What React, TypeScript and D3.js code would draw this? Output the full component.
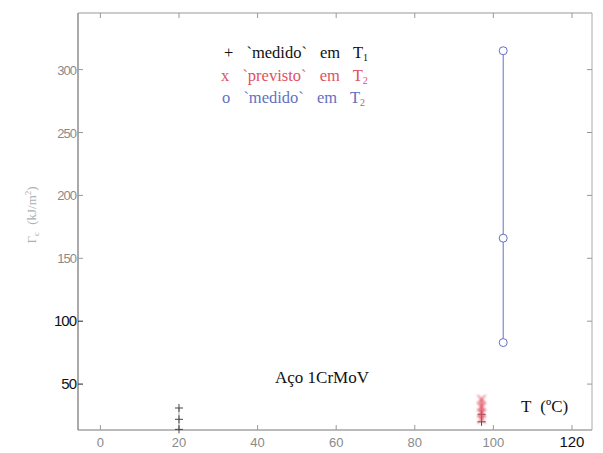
import React from "react";
import * as d3 from "d3";

// Temperature (°C) and toughness values (kJ/m²)
const measuredT1_T = [20, 20, 20, 97, 97];
const measuredT1_G = [31, 22, 14, 26, 20];
const predictedT2_T = [97, 97, 97, 97];
const predictedT2_G = [38, 32, 27, 22];
const measuredT2_T = [102.5, 102.5, 102.5];
const measuredT2_G = [315, 166, 83];

const xTicks = [0, 20, 40, 60, 80, 100, 120];
const yTicks = [50, 100, 150, 200, 250, 300];
const xDark = [120];
const yDark = [50, 100];

const W = 603;
const H = 453;
const left = 78;
const right = 592;
const top = 13;
const bottom = 430;

export default function App() {
  const x = d3.scaleLinear().domain([-5.7, 125.1]).range([left, right]);
  const y = d3.scaleLinear().domain([13.5, 345]).range([bottom, top]);

  const blue = "#6470c0";
  const red = "#e0505f";

  const plus = (cx: number, cy: number, key: string, color: string) => (
    <g key={key} stroke={color} strokeWidth={1}>
      <line x1={cx - 4} x2={cx + 4} y1={cy} y2={cy} />
      <line x1={cx} x2={cx} y1={cy - 4} y2={cy + 4} />
    </g>
  );
  const cross = (cx: number, cy: number, key: string, color: string) => (
    <g key={key} stroke={color} strokeWidth={1.2}>
      <line x1={cx - 4} x2={cx + 4} y1={cy - 4} y2={cy + 4} />
      <line x1={cx - 4} x2={cx + 4} y1={cy + 4} y2={cy - 4} />
    </g>
  );

  const line = d3
    .line<[number, number]>()
    .x((d) => x(d[0]))
    .y((d) => y(d[1]));

  const t20 = measuredT1_T
    .map((t, i) => [t, measuredT1_G[i]] as [number, number])
    .filter((d) => d[0] === 20);

  const serif = "Liberation Serif, Times New Roman, serif";

  return (
    <svg width={W} height={H} style={{ position: "absolute", left: 0, top: 0, background: "#fff" }}>
      <defs>
        <filter id="soft" x="-50%" y="-50%" width="200%" height="200%">
          <feGaussianBlur stdDeviation="0.9" />
        </filter>
      </defs>
      <rect x={0} y={0} width={W} height={H} fill="#fff" />

      {/* axes box */}
      <line x1={left} x2={left} y1={top} y2={bottom} stroke="#555" strokeWidth={1} />
      <line x1={left} x2={right} y1={bottom} y2={bottom} stroke="#777" strokeWidth={1} />
      <line x1={left} x2={right} y1={top} y2={top} stroke="#999" strokeWidth={1} />
      <line x1={right} x2={right} y1={top} y2={bottom} stroke="#aaa" strokeWidth={1} />

      {/* ticks */}
      {xTicks.map((t) => (
        <g key={"xt" + t} stroke="#999">
          <line x1={x(t)} x2={x(t)} y1={bottom} y2={bottom - 5} />
          <line x1={x(t)} x2={x(t)} y1={top} y2={top + 5} />
        </g>
      ))}
      {yTicks.map((t) => (
        <g key={"yt" + t} stroke="#999">
          <line x1={left} x2={left + 5} y1={y(t)} y2={y(t)} stroke={yDark.includes(t) ? "#222" : "#999"} />
          <line x1={right} x2={right - 5} y1={y(t)} y2={y(t)} />
        </g>
      ))}

      {/* tick labels */}
      {xTicks.map((t) => (
        <text
          key={"xl" + t}
          x={x(t)}
          y={bottom + 17}
          textAnchor="middle"
          fontFamily="Liberation Sans, Arial, sans-serif"
          fontSize={xDark.includes(t) ? 15 : 13}
          fill={xDark.includes(t) ? "#111" : "#8a8a8a"}
        >
          {t}
        </text>
      ))}
      {yTicks.map((t) => (
        <text
          key={"yl" + t}
          x={left - 2}
          y={y(t) + 5}
          textAnchor="end"
          fontFamily="Liberation Sans, Arial, sans-serif"
          fontSize={yDark.includes(t) ? 15 : 13}
          letterSpacing={-1}
          fill={yDark.includes(t) ? "#111" : "#8a8a8a"}
        >
          {t}
        </text>
      ))}

      {/* y axis title */}
      <text
        transform={`translate(36, 215) rotate(-90)`}
        textAnchor="middle"
        fontFamily={serif}
        fontSize={13}
        fill="#b0b0b0"
        wordSpacing={4}
      >
        Γ<tspan fontSize={9} dy={3}>c</tspan>
        <tspan dy={-3}> (kJ/m</tspan>
        <tspan fontSize={9} dy={-5}>2</tspan>
        <tspan dy={5}>)</tspan>
      </text>

      {/* measured at T1 */}
      <path d={line(t20) || ""} stroke="#aaa" strokeWidth={1} fill="none" />
      {measuredT1_T.map((t, i) => plus(x(t), y(measuredT1_G[i]), "p" + i, "#444"))}

      {/* predicted at T2 */}
      <g filter="url(#soft)">
        <path
          d={line(predictedT2_T.map((t, i) => [t, predictedT2_G[i]] as [number, number])) || ""}
          stroke={red}
          strokeWidth={2}
          fill="none"
        />
        {predictedT2_T.map((t, i) => cross(x(t), y(predictedT2_G[i]), "x" + i, red))}
      </g>

      {/* measured at T2 */}
      <path
        d={line(measuredT2_T.map((t, i) => [t, measuredT2_G[i]] as [number, number])) || ""}
        stroke={blue}
        strokeWidth={1}
        fill="none"
      />
      {measuredT2_T.map((t, i) => (
        <circle key={"o" + i} cx={x(t)} cy={y(measuredT2_G[i])} r={4} fill="#fff" stroke={blue} strokeWidth={1} />
      ))}

      {/* legend */}
      <g fontFamily={serif} fontSize={16.5} wordSpacing={9}>
        <text x={224} y={58} fill="#111">
          {"+ `medido` em T"}<tspan fontSize={10} dy={3}>1</tspan>
        </text>
        <text x={221} y={81} fill={red}>
          {"x `previsto` em T"}<tspan fontSize={10} dy={3}>2</tspan>
        </text>
        <text x={222} y={103} fill={blue}>
          {"o `medido` em T"}<tspan fontSize={10} dy={3} fill={red}>2</tspan>
        </text>
      </g>

      <text x={275} y={383} fontFamily={serif} fontSize={17} fill="#111">
        Aço 1CrMoV
      </text>
      <text x={521} y={412} fontFamily={serif} fontSize={17} fill="#111" wordSpacing={5}>
        {"T (ºC)"}
      </text>
    </svg>
  );
}
